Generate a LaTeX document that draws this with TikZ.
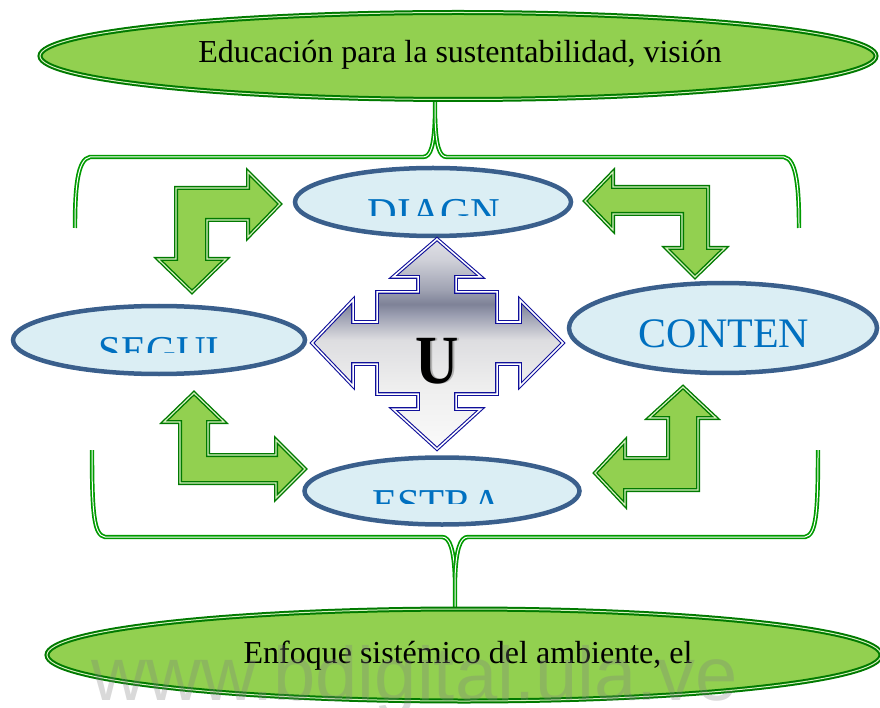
\documentclass[tikz,border=0pt]{standalone}
\usepackage{fontspec}
\setmainfont{Liberation Serif}
\newfontfamily\wmfont{Liberation Sans}
\usetikzlibrary{shapes.geometric}
\definecolor{grnfill}{HTML}{92D050}
\definecolor{grndark}{HTML}{007A00}
\definecolor{grnlight}{HTML}{D8F0C0}
\definecolor{bracegreen}{HTML}{009A00}
\definecolor{ellblue}{HTML}{3A5F8C}
\definecolor{ellfill}{HTML}{DBEEF4}
\definecolor{txtblue}{HTML}{0070C0}
\definecolor{crossnavy}{HTML}{10109A}
\definecolor{slate}{HTML}{7E8297}
\definecolor{shA}{HTML}{FAFAFA}
\definecolor{shB}{HTML}{EEEEEE}
\definecolor{shC}{HTML}{DDDDE0}
\definecolor{shD}{HTML}{9A9DB0}
\definecolor{shE}{HTML}{A0A3B3}
\definecolor{shF}{HTML}{CFD0D8}
\definecolor{shG}{HTML}{E0E0E6}
\pgfdeclareverticalshading{crossshade}{100bp}{color(0bp)=(shA); color(25bp)=(shA); color(40bp)=(shB); color(51bp)=(shC); color(57bp)=(shD); color(59.5bp)=(slate); color(63bp)=(shE); color(70bp)=(shF); color(75bp)=(shG); color(100bp)=(shG)}
\tikzset{
  greenell/.style={ellipse, fill=grnfill, draw=grndark, double=grnlight, double distance=1pt, line width=2pt, inner sep=0pt},
  blueell/.style={ellipse, fill=ellfill, draw=ellblue, line width=4.5pt, inner sep=0pt},
  brace/.style={draw=bracegreen, double=white, double distance=1pt, line width=1.7pt},
  greenarr/.style={fill=grnfill, draw=grndark, double=grnlight, double distance=1.2pt, line width=1.4pt, line join=miter},
  crossarr/.style={shading=crossshade, draw=crossnavy, double=white, double distance=1.5pt, line width=1.1pt, line join=miter},
  bigtext/.style={anchor=base, font=\fontsize{32}{38}\selectfont, text=black, inner sep=0pt},
  bluetext/.style={anchor=base, font=\fontsize{41}{48}\selectfont, text=txtblue, inner sep=0pt},
}
\begin{document}
\begin{tikzpicture}[x=1pt,y=-1pt]
\useasboundingbox (0,0) rectangle (880,708);
\clip (0,0) rectangle (880,708);
% braces
\coordinate (tbl) at (75,228);
\coordinate (tbr) at (799,228);
\coordinate (bbl) at (92,450);
\coordinate (bbr) at (818,450);
\draw[brace] (tbl) .. controls (75,190) and (77,159) .. (90,157) -- (423,157) .. controls (431,157) and (434,145) .. (435,118) -- (435,98);
\draw[brace] (435,118) .. controls (436,145) and (439,157) .. (447,157) -- (784,157) .. controls (797,159) and (799,190) .. (tbr);
\draw[brace] (bbl) .. controls (92,515) and (94,535) .. (105,537) -- (442,537) .. controls (450,537) and (454,550) .. (455,578) -- (455,610);
\draw[brace] (455,578) .. controls (456,550) and (460,537) .. (468,537) -- (805,537) .. controls (816,535) and (818,515) .. (bbr);
% green ellipses
\node[greenell, minimum width=836pt, minimum height=87pt] (top) at (458,56) {};
\node[bigtext] (toptext) at (460,63) {Educación para la sustentabilidad, visión};
\node[greenell, minimum width=834pt, minimum height=92pt] (bot) at (464,655) {};
\node[bigtext] (bottext) at (468,663) {Enfoque sistémico del ambiente, el};
% blue ellipses
\node[blueell, minimum width=276pt, minimum height=68pt] (diag) at (433,202) {};
\node[blueell, minimum width=292pt, minimum height=68pt] (segui) at (159,340) {};
\node[blueell, minimum width=308pt, minimum height=90pt] (conten) at (723,328) {};
\node[blueell, minimum width=275pt, minimum height=67pt] (estra) at (442,491) {};
\begin{scope}
\clip (0,0) rectangle (880,216);
\node[bluetext] (diagt) at (434,227) {DIAGN};
\end{scope}
\begin{scope}
\clip (0,0) rectangle (880,352);
\node[bluetext] (seguit) at (159,364) {SEGUI};
\end{scope}
\begin{scope}
\clip (0,0) rectangle (880,503);
\node[bluetext] (estrat) at (437,517) {ESTRA};
\end{scope}
\node[bluetext, font=\fontsize{42}{48}\selectfont] (content) at (724,347) {CONTEN};
% green bent arrows
\draw[greenarr] (176,188) -- (248,188) -- (248,172) -- (280,204) -- (248,237) -- (248,220) -- (207,220) -- (207,259) -- (226,259) -- (192,292) -- (158,259) -- (176,259) -- cycle;
\draw[greenarr] (194,393) -- (224,422) -- (208,422) -- (208,455) -- (276,455) -- (276,440) -- (305,469) -- (276,498) -- (276,483) -- (180,483) -- (180,422) -- (164,422) -- cycle;
\draw[greenarr] (585,201) -- (613,172) -- (613,187) -- (708,187) -- (708,248) -- (725,248) -- (695,277) -- (666,248) -- (682,248) -- (682,214) -- (613,214) -- (613,230) -- cycle;
\draw[greenarr] (683,387) -- (716,418) -- (698,418) -- (698,490) -- (625,490) -- (625,505) -- (595,473) -- (625,441) -- (625,458) -- (668,458) -- (668,418) -- (649,418) -- cycle;
% central quad arrow
\path[crossarr] (437,239) -- (481,277) -- (456,277) -- (456,292) -- (497,292) -- (497,322) -- (520,322) -- (520,300) -- (563,343) -- (520,386) -- (520,364) -- (497,364) -- (497,394) -- (456,394) -- (456,409) -- (481,409) -- (437,449) -- (393,409) -- (418,409) -- (418,394) -- (377,394) -- (377,364) -- (353,364) -- (353,386) -- (312,343) -- (353,300) -- (353,322) -- (377,322) -- (377,292) -- (418,292) -- (418,277) -- (393,277) -- cycle;
\node[anchor=base, inner sep=0pt, text=gray!60, font=\fontsize{60}{60}\selectfont\bfseries] (ushadow) at (439,383) {\scalebox{1}[1.15]{U}};
\node[anchor=base, inner sep=0pt, text=black, font=\fontsize{60}{60}\selectfont\bfseries] (u) at (437,383) {\scalebox{1}[1.15]{U}};
% watermark
\node[anchor=base, inner sep=0pt, text=gray, text opacity=0.3, font=\wmfont\fontsize{76}{76}\selectfont] (wm) at (415,700) {www.bdigital.ula.ve};
\end{tikzpicture}
\end{document}
